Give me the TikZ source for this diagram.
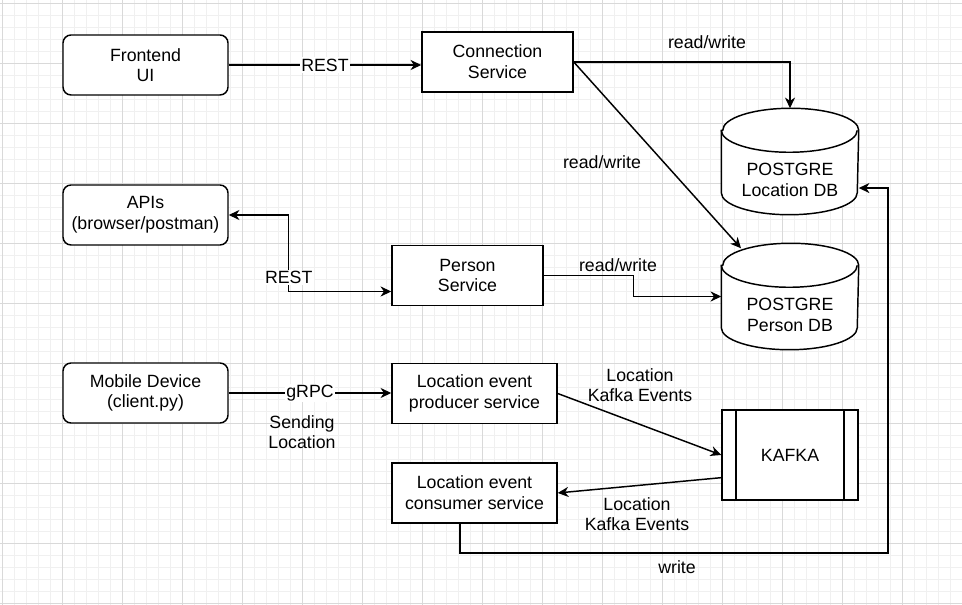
\documentclass[tikz,border=0pt]{standalone}
\usepackage{fontspec}
\setmainfont{Liberation Sans}
\usetikzlibrary{arrows.meta,shapes,positioning}
\newcommand{\myGridColor}{black!15}
\newcommand{\myFineGridColor}{black!6}
% cylinder round a DbBody node, text set a bit lower
\newcommand{\dbShape}[2]{%
	\draw[fill=white] ([yshift=-16.5pt]#1.north west) -- ([yshift=16.5pt]#1.south west)
		arc[start angle=180,end angle=360,x radius=51pt,y radius=16.5pt]
		-- ([yshift=-16.5pt]#1.north east)
		arc[start angle=0,end angle=180,x radius=51pt,y radius=16.5pt] -- cycle;
	\draw ([yshift=-16.5pt]#1.north west) arc[start angle=180,end angle=360,x radius=51pt,y radius=16.5pt];
	\node[Note] (#1-text) at ([yshift=-14pt]#1.center) {#2};
}

\begin{document}
\begin{tikzpicture}[x=0.75pt,y=-0.75pt,>={Stealth[length=8pt,width=7.5pt,inset=2.5pt]},line width=1.1pt,
	font=\fontsize{13.3}{15.5}\selectfont,
	Edge/.style={->,black},
	Client/.style={rectangle,rounded corners=6pt,fill=white,draw=black,align=center,minimum width=123.75pt,minimum height=45pt},
	Service/.style={rectangle,fill=white,draw=black,align=center,minimum width=113.25pt,minimum height=45pt},
	DbBody/.style={rectangle,minimum width=102pt,minimum height=78.75pt},
	Queue/.style={rectangle,fill=white,draw=black,minimum width=102pt,minimum height=67.5pt,
		path picture={\draw ([xshift=10.5pt]path picture bounding box.north west) -- ([xshift=10.5pt]path picture bounding box.south west)
			([xshift=-10.5pt]path picture bounding box.north east) -- ([xshift=-10.5pt]path picture bounding box.south east);}},
	EdgeLabel/.style={fill=white,inner sep=1pt},
	Note/.style={align=center,inner sep=0pt},
]
	\useasboundingbox[fill=white] (0,0) rectangle (962,605);
	\foreach \gx in {2,14,...,962} \draw[\myFineGridColor,thin] (\gx,0) -- (\gx,605);
	\foreach \gy in {3,15,...,605} \draw[\myFineGridColor,thin] (0,\gy) -- (962,\gy);
	\foreach \gx in {2,62,...,962} \draw[\myGridColor,thin] (\gx,0) -- (\gx,605);
	\foreach \gy in {3,63,...,603} \draw[\myGridColor,thin] (0,\gy) -- (962,\gy);

	\node[Client] (UI) at (145.5,65) {Frontend\\UI};
	\node[Client] (API)[below of= UI, node distance=112.5pt]{APIs\\(browser/postman)};
	\node[Client] (MD)[below of= API, node distance=133.5pt]{Mobile Device\\(client.py)};
	\node[Service] (CS) at (497.5,62) {Connection\\Service};
	\node[Service] (PS) at (467.5,275.5) {Person\\Service};
	\node[Service, minimum width=123.75pt] (LP) at (474.5,393.5) {Location event\\producer service};
	\node[Service, minimum width=123.75pt] (LC)[below of= LP, node distance=74.6pt]{Location event\\consumer service};
	\node[Queue] (KF) at (790,455) {KAFKA};
	\node[DbBody] (LDB) at (790,161.5) {};
	\node[DbBody] (PDB)[below of= LDB, node distance=101.25pt]{};
	\dbShape{LDB}{POSTGRE\\Location DB}
	\dbShape{PDB}{POSTGRE\\Person DB}

	\path[Edge]
	(UI.east) edge node[EdgeLabel]{REST} (UI.east -| CS.west)
	(MD.east) edge node[EdgeLabel]{gRPC} (MD.east -| LP.west)
	(CS.east) edge ([xshift=-36.75pt,yshift=-3.75pt]PDB.north)
	(LP.east) edge (KF.west)
	([yshift=-17pt]KF.west) edge (LC.east)
	;
	\draw[Edge] (CS.east) -| (LDB.north);
	\draw[Edge,<->] (API.east) -- ++(45pt,0) |- node[EdgeLabel, pos=0.41]{REST} ([yshift=-12pt]PS.west);
	\draw[Edge] (PS.east) -- ++(67.5pt,0) |- (PDB.west);
	\coordinate (wbend) at (888,553);
	\draw[Edge] ([xshift=-10.9pt]LC.south) |- (wbend) |- ([yshift=-19.9pt]LDB.east);

	\node[Note] (rwLoc) at (707,42) {read/write};
	\node[Note] (rwDiag) at (602,162) {read/write};
	\node[Note] (rwPer) at (618,265) {read/write};
	\node[Note] (sendLoc) at (302,432) {Sending\\Location};
	\node[Note] (evIn) at (640,385) {Location\\Kafka Events};
	\node[Note] (evOut) at (637,514) {Location\\Kafka Events};
	\node[Note] (wr) at (677,567) {write};
\end{tikzpicture}
\end{document}
